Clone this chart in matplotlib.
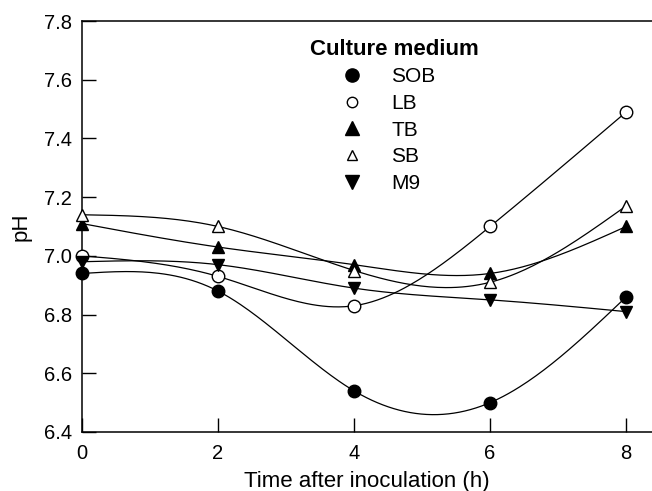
import numpy as np
import matplotlib
matplotlib.use("Agg")
import matplotlib.pyplot as plt

plt.rcParams["font.family"] = ["Liberation Sans", "DejaVu Sans"]

hours = [0, 2, 4, 6, 8]
media = ["SOB", "LB", "TB", "SB", "M9"]
ph_sob = [6.94, 6.88, 6.54, 6.50, 6.86]
ph_lb = [7.00, 6.93, 6.83, 7.10, 7.49]
ph_tb = [7.11, 7.03, 6.97, 6.94, 7.10]
ph_sb = [7.14, 7.10, 6.95, 6.91, 7.17]
ph_m9 = [6.98, 6.97, 6.89, 6.85, 6.81]

series = [ph_sob, ph_lb, ph_tb, ph_sb, ph_m9]
markers = ["o", "o", "^", "^", "v"]
faces = ["black", "white", "black", "white", "black"]


def natural_spline(x, y, n=200):
    # natural cubic spline through the points, for the smooth curves
    x = np.asarray(x, float)
    y = np.asarray(y, float)
    k = len(x)
    h = np.diff(x)
    A = np.zeros((k, k))
    b = np.zeros(k)
    A[0, 0] = A[-1, -1] = 1
    for i in range(1, k - 1):
        A[i, i - 1] = h[i - 1]
        A[i, i] = 2 * (h[i - 1] + h[i])
        A[i, i + 1] = h[i]
        b[i] = 6 * ((y[i + 1] - y[i]) / h[i] - (y[i] - y[i - 1]) / h[i - 1])
    m = np.linalg.solve(A, b)
    xs = np.linspace(x[0], x[-1], n)
    idx = np.clip(np.searchsorted(x, xs) - 1, 0, k - 2)
    x0, x1 = x[idx], x[idx + 1]
    hh = x1 - x0
    t0, t1 = x1 - xs, xs - x0
    ys = (m[idx] * t0 ** 3 + m[idx + 1] * t1 ** 3) / (6 * hh) \
        + (y[idx] / hh - m[idx] * hh / 6) * t0 \
        + (y[idx + 1] / hh - m[idx + 1] * hh / 6) * t1
    return xs, ys


fig = plt.figure(figsize=(6.52, 4.91), dpi=100)
ax = fig.add_axes([0.1258, 0.1202, 0.8742, 0.8370])

for name, vals, mk, fc in zip(media, series, markers, faces):
    xs, ys = natural_spline(hours, vals)
    ax.plot(xs, ys, color="black", linewidth=0.9, zorder=2)
    ax.plot(hours, vals, linestyle="none", marker=mk, markersize=9,
            markerfacecolor=fc, markeredgecolor="black", markeredgewidth=1.0,
            label=name, zorder=3, clip_on=False)

ax.set_xlim(0, 8.38)
ax.set_ylim(6.4, 7.8)
ax.set_xticks([0, 2, 4, 6, 8])
yt = np.arange(6.4, 7.81, 0.2)
ax.set_yticks(yt)
ax.set_yticklabels([f"{v:.1f}" for v in yt])
ax.tick_params(direction="in", length=10, width=1.0, labelsize=14.5)
ax.tick_params(axis="x", pad=9)
ax.tick_params(axis="y", pad=7)
ax.spines["right"].set_visible(False)
for s in ["left", "bottom", "top"]:
    ax.spines[s].set_linewidth(1.1)

ax.set_xlabel("Time after inoculation (h)", fontsize=16, labelpad=5.5)
ax.set_ylabel("pH", fontsize=16, labelpad=9)

leg = ax.legend(loc="upper left", bbox_to_anchor=(0.3825, 0.982), frameon=False,
                title="Culture medium", fontsize=15,
                handlelength=4.0, handletextpad=-0.12, labelspacing=0.365,
                alignment="left", borderpad=0.0)
leg.get_title().set_fontweight("bold")
leg.get_title().set_fontsize(16)
for hnd, fc in zip(leg.legend_handles, faces):
    hnd.set_markersize(9.5 if fc == "black" else 7.5)

fig.savefig("out.png", dpi=100)
plt.close(fig)
